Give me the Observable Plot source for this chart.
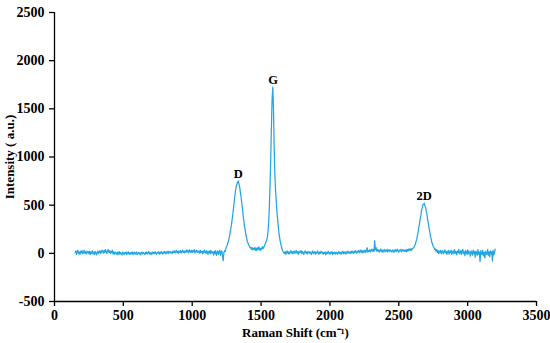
<!DOCTYPE html>
<html>
<head>
<meta charset="utf-8">
<script src="https://cdn.jsdelivr.net/npm/d3@7"></script>
<script src="https://cdn.jsdelivr.net/npm/@observablehq/plot@0.6"></script>
<style>
  html, body { margin: 0; padding: 0; background: #fff; }
  #chart { width: 550px; height: 343px; }
</style>
</head>
<body>
<div id="chart"></div>
<script>
// Sampling grid of the spectrum (cm^-1): 150 to 3200, every 5
const shiftStart = 150;
const shiftEnd = 3200;
const shiftStep = 5;

// Intensity (a.u.), one row per 100 cm^-1
const intensity = [
  8, 25, -10, 18, 30, -2, 14, -12, 22, 4, 28, -6, 12, 32, 0, 16, -8, 24, 6, 19,
  -4, 20, -14, 15, 2, 26, -6, 11, -12, 21, 9, -16, 7, 24, -3, 14, 29, 0, 12, 34,
  18, 2, 30, 8, 38, 14, -2, 26, 40, 10, 28, -1, 20, 6, 32, -5, 15, -10, 12, 3,
  -8, 12, -15, 6, 18, -10, 9, -3, -18, 14, 2, -13, 8, -4, 15, -12, 4, 17, -9, 6,
  -11, 9, -4, 14, -14, 5, 12, -9, 3, 16, -15, 0, 10, -7, 6, -17, 4, 13, -5, 8,
  -2, -13, 10, -3, 16, -9, 6, 18, -6, 8, -14, 2, 13, -8, 11, -1, 20, 3, -11, 9,
  4, 17, -9, 11, -1, 19, 6, -8, 14, 2, 21, 7, -6, 16, 3, 24, -2, 12, 19, 5,
  13, -3, 22, 8, 27, 2, 16, 31, 7, 20, -1, 24, 11, 29, 3, 18, 33, 9, 23, 6,
  26, 10, 35, 15, 30, 5, 37, 19, 11, 32, 7, 28, 16, 38, 4, 22, 31, 10, 27, 13,
  23, 0, 30, 9, 19, -6, 25, 6, 33, 12, -2, 28, 14, -12, 21, 4, 31, -5, 24, 8,
  15, -18, 22, -2, 28, -20, 8, 24, -12, 17, 32, -22, 10, 26, -30, -75, 6, 28, 20, 55,
  70, 88, 112, 138, 172, 212, 255, 298, 352, 408, 470, 538, 600, 652, 698, 722, 742, 750, 712, 688,
  628, 582, 518, 462, 392, 338, 278, 238, 188, 162, 122, 108, 86, 74, 58, 62, 42, 60, 36, 52,
  40, 62, 30, 55, 28, 50, 66, 36, 58, 30, 52, 44, 70, 50, 62, 80, 96, 114, 136, 160,
  220, 320, 480, 700, 980, 1300, 1600, 1725, 1520, 1100, 820, 660, 540, 440, 355, 275, 210, 158, 118, 84,
  58, 32, 18, 8, -2, 20, -10, 12, 26, -4, 16, -9, 10, 28, 2, 18, -6, 14, 24, 0,
  12, 30, 3, 17, -10, 22, 6, 15, 28, -4, 19, 8, -12, 16, 25, 2, 13, -8, 21, 9,
  1, 18, 7, -14, 13, 24, -3, 8, 19, -10, 11, 3, 26, 5, -9, 15, -1, 21, 4, 12,
  -11, 10, -1, 16, -15, 5, 14, -5, 20, 3, -10, 12, 0, 18, -13, 8, -3, 15, -8, 7,
  11, -12, 6, 18, -2, 9, -11, 14, 3, 22, -6, 8, 17, -9, 12, 2, 24, 5, 15, -1,
  18, 3, 26, 9, -2, 21, 7, 30, 12, 0, 24, 14, 33, 6, 18, 36, 10, 25, 4, 28,
  14, 32, 8, 26, 58, 12, 30, 20, 38, 16, 28, 44, 22, 40, 18, 130, 35, 62, 24, 42,
  20, 36, 14, 30, 45, 18, 34, 10, 28, 40, 16, 32, 22, 42, 12, 30, 38, 20, 34, 26,
  14, 36, 24, 10, 32, 40, 18, 28, 44, 22, 12, 34, 26, 42, 16, 30, 38, 24, 32, 20,
  36, 18, 40, 22, 44, 30, 48, 38, 26, 50, 45, 56, 60, 80, 92, 122, 142, 184, 216, 266,
  302, 355, 390, 446, 470, 505, 510, 520, 492, 476, 432, 402, 346, 310, 258, 224, 176, 152, 112, 98,
  70, 64, 40, 46, 22, 38, 10, 30, -4, 24, 8, 32, -6, 18, 28, -2, 14, 36, 4, 20,
  -10, 16, 30, -8, 22, 6, 34, -12, 12, 26, -4, 38, 2, 18, -16, 24, 8, 40, -6, 14,
  28, -14, 20, 42, -2, 16, -24, 30, 8, -10, 36, -6, 22, 4, -30, 26, 12, -18, 34, -4,
  18, -40, 24, 6, -20, 38, -8, 14, -85, 28, 2, -14, 32, -26, 10, -48, 22, 0, -12, 40,
  -20, 14, -34, 26, -6, 18, -80, 30, -16, 10, 44
];

// Peak annotations
const peakNames = ["D", "G", "2D"];
const peakShift = [1335, 1588, 2685];
const peakHeight = [750, 1725, 520];

// Axis ticks
const xTicks = [0, 500, 1000, 1500, 2000, 2500, 3000, 3500];
const yTicks = [-500, 0, 500, 1000, 1500, 2000, 2500];

const shifts = d3.range(shiftStart, shiftEnd + 1, shiftStep);
const n = Math.min(shifts.length, intensity.length);
const spectrum = d3.range(n).map(i => ({shift: shifts[i], value: intensity[i]}));
const peaks = peakNames.map((name, i) => ({name, shift: peakShift[i], value: peakHeight[i]}));

const chart = Plot.plot({
  width: 550,
  height: 343,
  marginLeft: 54,
  marginRight: 14,
  marginTop: 12,
  marginBottom: 42,
  style: {
    fontFamily: "'Liberation Serif', 'Times New Roman', serif",
    fontSize: "13px",
    fontWeight: "bold",
    color: "#000",
    background: "#fff"
  },
  x: {domain: [0, 3500]},
  y: {domain: [-500, 2500]},
  marks: [
    Plot.line(spectrum, {x: "shift", y: "value", stroke: "#22a6e2", strokeWidth: 1.25}),
    Plot.text(peaks, {x: "shift", y: "value", text: "name", lineAnchor: "bottom", dy: -3,
      fontSize: 12.5, fontWeight: "bold", fill: "#000"}),
    Plot.ruleX([0], {stroke: "#000", strokeWidth: 1.3}),
    Plot.ruleY([-500], {stroke: "#000", strokeWidth: 1.3}),
    // tick marks only
    Plot.axisX(xTicks, {tickSize: 5, strokeWidth: 1.3, tickFormat: () => "", label: null}),
    Plot.axisY(yTicks, {tickSize: 5, strokeWidth: 1.3, tickFormat: () => "", label: null}),
    // tick labels
    Plot.text(xTicks, {x: d => d, frameAnchor: "bottom", dy: 14, lineAnchor: "middle",
      text: d => String(d), fontSize: 14, fontWeight: "bold", fill: "#000"}),
    Plot.text(yTicks, {y: d => d, frameAnchor: "left", dx: -10, textAnchor: "end", lineAnchor: "middle",
      text: d => String(d), fontSize: 14, fontWeight: "bold", fill: "#000"}),
    // axis titles
    Plot.axisX({label: "Raman Shift (cm⁻¹)", labelAnchor: "center", labelArrow: "none", labelOffset: 35,
      ticks: [], tickSize: 0}),
    Plot.axisY({label: "Intensity ( a.u.)", labelAnchor: "center", labelArrow: "none", labelOffset: 50,
      ticks: [], tickSize: 0})
  ]
});
document.getElementById("chart").appendChild(chart);
</script>
</body>
</html>
